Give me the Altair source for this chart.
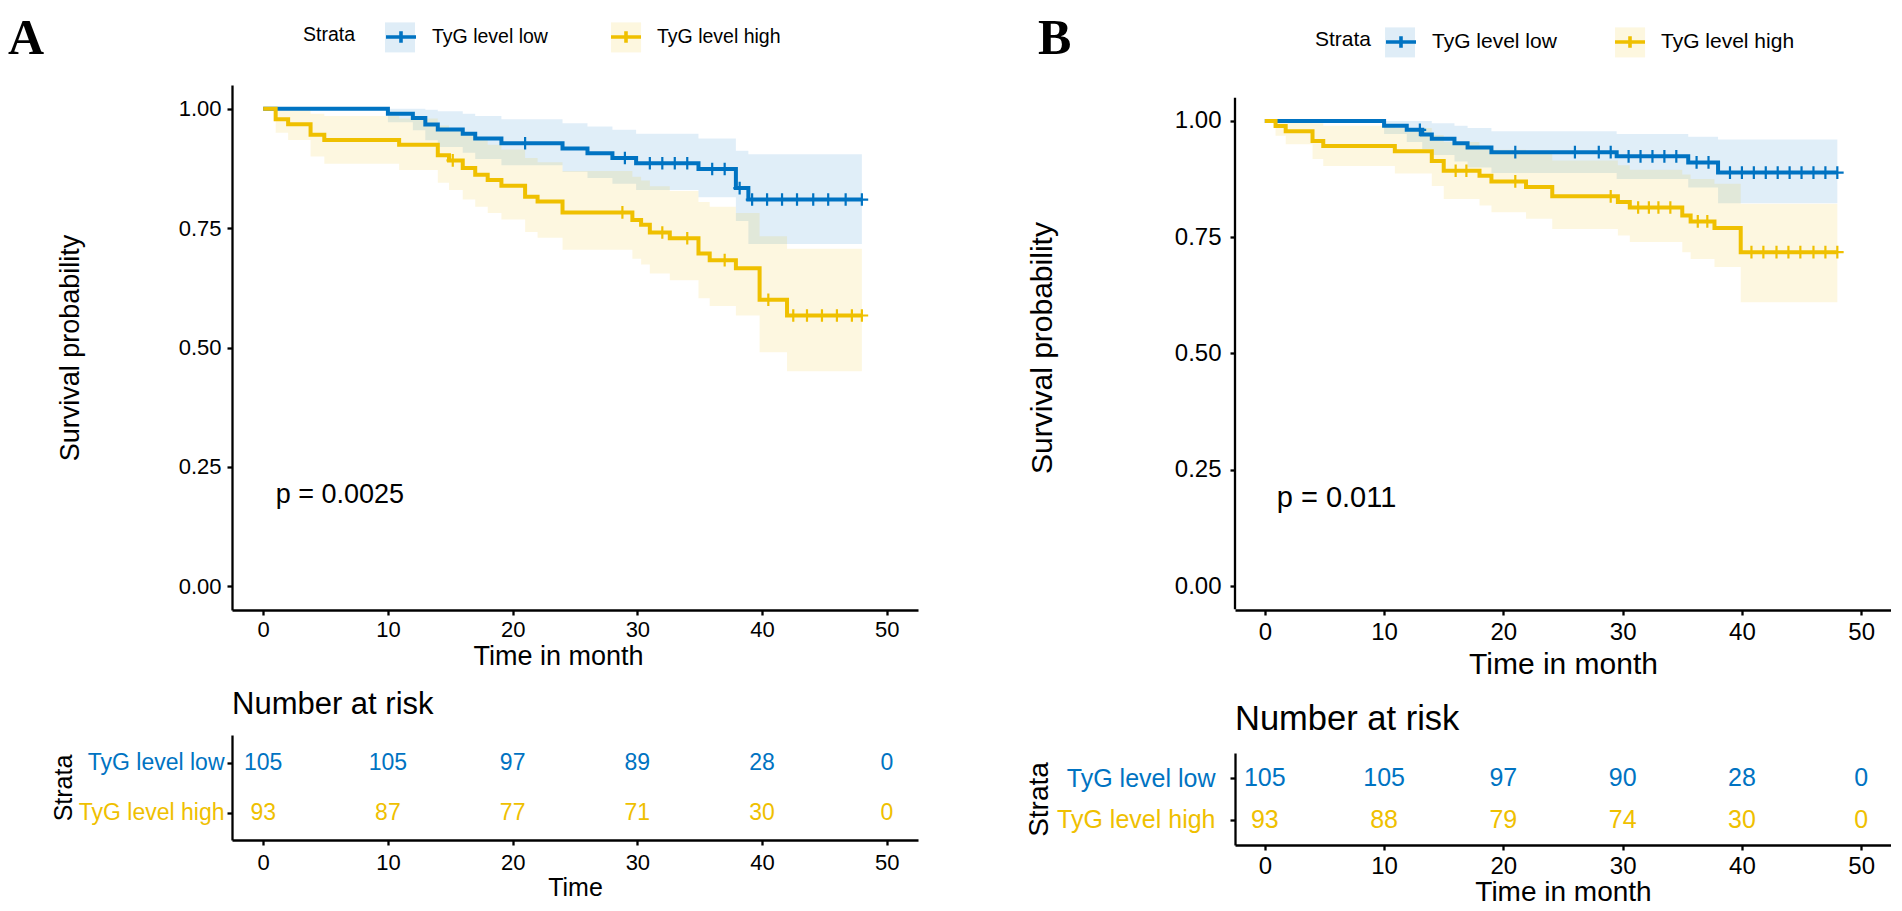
import altair as alt
import pandas as pd

FONT = "Liberation Sans"
SERIF = "Liberation Serif"
BLUE = "#0073C2"
YELLOW = "#EFC000"
LOW = "TyG level low"
HIGH = "TyG level high"
STRATA = [LOW, HIGH]

# ---------------- Panel A data ----------------
a_low_time = [0, 10.0, 12.0, 13.0, 14.0, 16.0, 17.0, 19.1, 24.0, 26.0, 28.0, 29.9, 34.9, 37.9, 38.9, 48.0]
a_low_surv = [1.0, 0.990, 0.981, 0.967, 0.957, 0.948, 0.938, 0.928, 0.917, 0.907, 0.897, 0.886, 0.874, 0.834, 0.810, 0.810]
a_low_lower = [1.0, 0.972, 0.955, 0.934, 0.920, 0.908, 0.895, 0.882, 0.868, 0.855, 0.843, 0.830, 0.815, 0.765, 0.717, 0.717]
a_low_upper = [1.0, 1.0, 1.0, 0.998, 0.995, 0.990, 0.985, 0.978, 0.970, 0.963, 0.956, 0.948, 0.938, 0.912, 0.905, 0.905]
a_low_censor = [21.0, 29.0, 31.0, 32.0, 33.0, 34.0, 36.0, 37.0, 38.2, 39.2, 40.4, 41.6, 42.8, 44.1, 45.3, 46.7, 48.0]

a_high_time = [0, 1.0, 2.0, 3.8, 4.9, 10.9, 14.0, 14.9, 16.0, 17.0, 18.0, 19.1, 21.0, 22.0, 24.0,
               29.6, 30.3, 31.0, 32.6, 34.9, 35.8, 37.9, 39.8, 42.0, 48.0]
a_high_surv = [1.0, 0.978, 0.968, 0.946, 0.935, 0.925, 0.903, 0.892, 0.876, 0.862, 0.851, 0.839, 0.816, 0.806, 0.783,
               0.767, 0.757, 0.741, 0.729, 0.697, 0.683, 0.666, 0.600, 0.567, 0.567]
a_high_lower = [1.0, 0.950, 0.935, 0.900, 0.885, 0.872, 0.845, 0.830, 0.810, 0.795, 0.782, 0.768, 0.742, 0.730, 0.705,
                0.686, 0.674, 0.655, 0.641, 0.603, 0.587, 0.567, 0.490, 0.450, 0.450]
a_high_upper = [1.0, 1.0, 1.0, 0.990, 0.985, 0.980, 0.965, 0.958, 0.945, 0.935, 0.925, 0.915, 0.897, 0.888, 0.870,
                0.858, 0.850, 0.838, 0.828, 0.805, 0.795, 0.782, 0.733, 0.707, 0.707]
a_high_censor = [15.2, 28.8, 32.0, 34.0, 37.0, 40.5, 42.5, 43.6, 44.8, 46.0, 47.2, 48.0]

a_pvalue = "p = 0.0025"

# ---------------- Panel B data ----------------
b_low_time = [0, 10.0, 11.9, 13.2, 14.0, 15.9, 17.0, 19.0, 29.5, 35.5, 38.0, 48.0]
b_low_surv = [1.0, 0.990, 0.981, 0.971, 0.962, 0.952, 0.943, 0.933, 0.924, 0.911, 0.889, 0.889]
b_low_lower = [1.0, 0.972, 0.955, 0.940, 0.927, 0.913, 0.900, 0.888, 0.875, 0.857, 0.823, 0.823]
b_low_upper = [1.0, 1.0, 1.0, 1.0, 0.995, 0.990, 0.985, 0.978, 0.972, 0.966, 0.960, 0.960]
b_low_censor = [13.0, 21.0, 26.0, 28.0, 29.0, 30.5, 31.5, 32.5, 33.5, 34.5, 36.2, 37.2,
                39.0, 40.0, 41.0, 42.0, 43.0, 44.0, 45.0, 46.0, 47.0, 48.0]

b_high_time = [0, 0.9, 1.75, 4.0, 4.9, 10.9, 14.0, 15.0, 18.0, 19.0, 21.9, 24.1, 29.6, 30.6, 35.0, 35.7, 37.7, 39.9, 48.0]
b_high_surv = [1.0, 0.989, 0.978, 0.957, 0.946, 0.935, 0.914, 0.893, 0.882, 0.870, 0.858, 0.838, 0.826, 0.814,
               0.797, 0.784, 0.770, 0.718, 0.718]
b_high_lower = [1.0, 0.968, 0.950, 0.918, 0.903, 0.887, 0.860, 0.832, 0.818, 0.804, 0.790, 0.768, 0.754, 0.740,
                0.718, 0.703, 0.686, 0.610, 0.610]
b_high_upper = [1.0, 1.0, 1.0, 0.995, 0.990, 0.985, 0.970, 0.955, 0.947, 0.938, 0.930, 0.915, 0.905, 0.895,
                0.885, 0.875, 0.865, 0.822, 0.822]
b_high_censor = [16.0, 16.9, 21.0, 29.0, 31.3, 32.2, 33.0, 34.0, 36.3, 37.1, 40.8, 41.8, 42.9, 43.9, 44.9, 46.0, 47.0, 48.0]

b_pvalue = "p = 0.011"

# ---------------- Number at risk ----------------
risk_time = [0, 10, 20, 30, 40, 50]
a_risk_low = [105, 105, 97, 89, 28, 0]
a_risk_high = [93, 87, 77, 71, 30, 0]
b_risk_low = [105, 105, 97, 90, 28, 0]
b_risk_high = [93, 88, 79, 74, 30, 0]

TICKS_X = [0, 10, 20, 30, 40, 50]
TICKS_Y = [0, 0.25, 0.5, 0.75, 1.0]

# Liberation Sans advance widths (em) used to line up the two stacked legends
ADV = {"S": 0.667, "t": 0.278, "r": 0.333, "a": 0.556, "T": 0.611, "y": 0.5, "G": 0.778,
       " ": 0.278, "l": 0.222, "e": 0.556, "v": 0.5, "o": 0.556, "w": 0.722}


def text_width(s, fs):
    return sum(ADV.get(c, 0.556) for c in s) * fs


def step_value(times, surv, t):
    v = surv[0]
    for ti, si in zip(times, surv):
        if ti <= t + 1e-9:
            v = si
    return v


def curve_frame(groups):
    rows = []
    for name, t, s, lo, hi in groups:
        for i in range(len(t)):
            rows.append({"strata": name, "time": t[i], "surv": s[i], "lower": lo[i], "upper": hi[i]})
    return pd.DataFrame(rows)


def censor_frame(groups):
    rows = []
    for name, t, s, cens in groups:
        for c in cens:
            rows.append({"strata": name, "time": c, "surv": step_value(t, s, c)})
    return pd.DataFrame(rows)


def risk_frame(low, high):
    rows = []
    for name, vals in ((LOW, low), (HIGH, high)):
        for t, n in zip(risk_time, vals):
            rows.append({"strata": name, "time": t, "n": n})
    return pd.DataFrame(rows)


def legend_pair(x, y, fs, tpad, colpad):
    sw = 3.6
    sym = 34          # ceil(sqrt(900) + stroke width)
    loff = 14
    cross = alt.Legend(orient="none", legendX=x, legendY=y, direction="horizontal",
                       title="Strata", titleOrient="left", titleFontSize=fs, titleFont=FONT,
                       titleFontWeight="normal", titleColor="black", titlePadding=tpad,
                       labelFontSize=fs, labelFont=FONT, labelColor="black", labelOffset=loff,
                       symbolType="M-1,0H1M0,-0.38V0.38", symbolSize=900, symbolStrokeWidth=sw,
                       symbolOpacity=1, columnPadding=colpad)
    entry2 = sym + loff + text_width(LOW, fs) + colpad
    box = alt.Legend(orient="none", legendX=x + text_width("Strata", fs) + tpad, legendY=y,
                     direction="horizontal", title=None, labelExpr="''", labelFontSize=fs,
                     labelOffset=loff, symbolType="square", symbolSize=900,
                     symbolStrokeWidth=sw, symbolStrokeColor="transparent",
                     columnPadding=entry2 - (sym + loff))
    return box, cross


def km_chart(curve, cens, pval, letter, width, height, ydom, xaxis, yaxis, legends,
             pfs, letter_xy, draw_y_rule):
    box_legend, cross_legend = legends
    xs = alt.Scale(domain=[-2.5, 52.5], nice=False, zero=False)
    ys = alt.Scale(domain=ydom, nice=False, zero=False)
    cs = alt.Scale(domain=STRATA, range=[BLUE, YELLOW])
    X = alt.X("time:Q", scale=xs, axis=xaxis)
    base = alt.Chart(curve)
    band = base.mark_area(interpolate="step-after", opacity=0.12).encode(
        x=X,
        y=alt.Y("lower:Q", scale=ys, axis=yaxis),
        y2="upper:Q",
        fill=alt.Fill("strata:N", sort=STRATA, scale=alt.Scale(range=[BLUE, YELLOW]),
                      legend=box_legend),
    )
    line = base.mark_line(interpolate="step-after", strokeWidth=4).encode(
        x=X,
        y=alt.Y("surv:Q", scale=ys, axis=yaxis),
        color=alt.Color("strata:N", scale=cs, legend=cross_legend),
    )
    pts = alt.Chart(cens).mark_point(shape="M-1,0H1M0,-1V1", size=160, strokeWidth=2.2,
                                     filled=False, opacity=1).encode(
        x=X,
        y=alt.Y("surv:Q", scale=ys, axis=yaxis),
        color=alt.Color("strata:N", scale=cs, legend=cross_legend),
    )
    ptxt = alt.Chart(pd.DataFrame({"x": [1.0], "y": [0.19], "label": [pval]})).mark_text(
        align="left", baseline="middle", fontSize=pfs, font=FONT, color="black").encode(
        x=alt.X("x:Q", scale=xs, axis=xaxis),
        y=alt.Y("y:Q", scale=ys, axis=yaxis),
        text="label:N",
    )
    ltxt = alt.Chart(pd.DataFrame({"label": [letter]})).mark_text(
        align="left", baseline="top", fontSize=50, font=SERIF, fontWeight="bold", color="black").encode(
        x=alt.value(letter_xy[0]), y=alt.value(letter_xy[1]), text="label:N")
    layers = [band, line, pts, ptxt, ltxt]
    if draw_y_rule:
        rule = alt.Chart(pd.DataFrame({"lo": [-0.05], "hi": [1.05]})).mark_rule(
            color="black", strokeWidth=2.3).encode(
            x=alt.value(0), y=alt.Y("lo:Q", scale=ys, axis=yaxis), y2="hi:Q")
        layers.append(rule)
    return alt.layer(*layers).properties(width=width, height=height)


def risk_chart(df, width, height, pad, fs_num, xaxis, yaxis, title):
    cs = alt.Scale(domain=STRATA, range=[BLUE, YELLOW])
    return alt.Chart(df).mark_text(fontSize=fs_num, font=FONT, baseline="middle").encode(
        x=alt.X("time:Q", scale=alt.Scale(domain=[-2.5, 52.5], nice=False, zero=False), axis=xaxis),
        y=alt.Y("strata:N", scale=alt.Scale(type="point", domain=STRATA, padding=pad), axis=yaxis),
        text="n:Q",
        color=alt.Color("strata:N", scale=cs, legend=None),
    ).properties(width=width, height=height, title=title)


label_color = {"condition": {"test": "datum.value == '%s'" % LOW, "value": BLUE}, "value": YELLOW}


def independent(ch):
    return ch.resolve_scale(color="independent", fill="independent").resolve_legend(
        color="independent", fill="independent")


LETTER_Y = -71

# ---------------- Panel A ----------------
A_W, A_H = 686, 525
curveA = curve_frame([(LOW, a_low_time, a_low_surv, a_low_lower, a_low_upper),
                      (HIGH, a_high_time, a_high_surv, a_high_lower, a_high_upper)])
censA = censor_frame([(LOW, a_low_time, a_low_surv, a_low_censor),
                      (HIGH, a_high_time, a_high_surv, a_high_censor)])
xaxisA = alt.Axis(values=TICKS_X, title="Time in month", labelFontSize=22, titleFontSize=27,
                  labelPadding=4, titlePadding=3, titleX=326)
yaxisA = alt.Axis(values=TICKS_Y, format=".2f", title="Survival probability", labelFontSize=22,
                  titleFontSize=27, labelPadding=6, titlePadding=94)
kmA = km_chart(curveA, censA, a_pvalue, "A", A_W, A_H, [-0.05, 1.05], xaxisA, yaxisA,
               legend_pair(71, -65, 19.5, 28, 55), 27, (-224, LETTER_Y), False)

riskA = risk_chart(
    risk_frame(a_risk_low, a_risk_high), A_W, 105, 0.55, 23,
    alt.Axis(values=TICKS_X, title="Time", labelFontSize=22, titleFontSize=25,
             labelPadding=7, titlePadding=2),
    alt.Axis(title="Strata", titleFontSize=25, labelFontSize=23, labelPadding=3, titlePadding=2,
             labelColor=label_color),
    alt.TitleParams("Number at risk", anchor="start", frame="group", fontSize=31, font=FONT,
                    fontWeight="normal", color="black", baseline="alphabetic", offset=-10),
)
panelA = independent(alt.vconcat(kmA, riskA, spacing=20))

# ---------------- Panel B ----------------
B_W, B_H = 656, 525
curveB = curve_frame([(LOW, b_low_time, b_low_surv, b_low_lower, b_low_upper),
                      (HIGH, b_high_time, b_high_surv, b_high_lower, b_high_upper)])
censB = censor_frame([(LOW, b_low_time, b_low_surv, b_low_censor),
                      (HIGH, b_high_time, b_high_surv, b_high_censor)])
xaxisB = alt.Axis(values=TICKS_X, title="Time in month", labelFontSize=24, titleFontSize=30,
                  labelPadding=5, titlePadding=5)
yaxisB = alt.Axis(values=TICKS_Y, format=".2f", title="Survival probability", labelFontSize=24,
                  titleFontSize=30, labelPadding=9, titlePadding=117, domain=False)
kmB = km_chart(curveB, censB, b_pvalue, "B", B_W, B_H, [-0.0516, 1.0774], xaxisB, yaxisB,
               legend_pair(80, -60, 21, 12, 50), 29, (-197, LETTER_Y), True)

riskB = risk_chart(
    risk_frame(b_risk_low, b_risk_high), B_W, 92, 0.6, 25,
    alt.Axis(values=TICKS_X, title="Time in month", labelFontSize=24, titleFontSize=28,
             labelPadding=4, titlePadding=0),
    alt.Axis(title="Strata", titleFontSize=28, labelFontSize=25, labelPadding=15, titlePadding=3,
             labelColor=label_color),
    alt.TitleParams("Number at risk", anchor="start", frame="group", fontSize=34.5, font=FONT,
                    fontWeight="normal", color="black", baseline="alphabetic", offset=-11),
)
panelB = independent(alt.vconcat(kmB, riskB, spacing=22))

chart = independent(alt.hconcat(panelA, panelB, spacing=107)).properties(
    padding={"left": 0, "top": 6, "right": 0, "bottom": 0}
).configure_view(
    strokeWidth=0
).configure_axis(
    grid=False, domainColor="black", domainWidth=2.3, tickColor="black", tickWidth=2.3,
    tickSize=5, labelColor="black", titleColor="black", titleFontWeight="normal",
    labelFont=FONT, titleFont=FONT,
)

chart.save("out.html", embed_options={"renderer": "svg", "actions": False})
